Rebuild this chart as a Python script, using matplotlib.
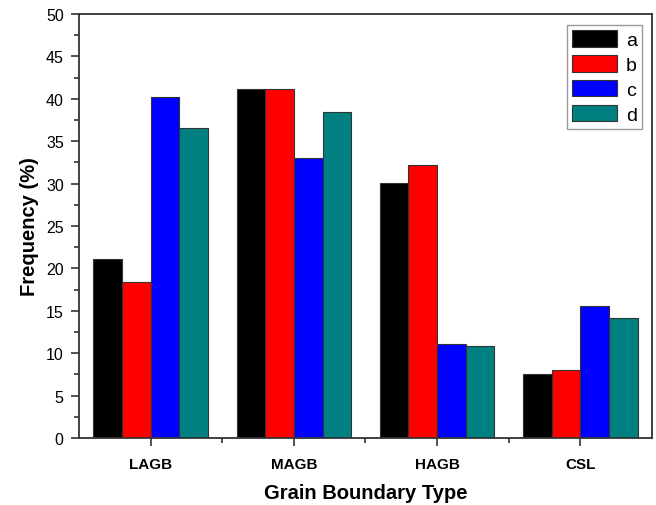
import numpy as np
import matplotlib
matplotlib.use('Agg')
import matplotlib.pyplot as plt
from matplotlib.ticker import MultipleLocator, FixedLocator

plt.rcParams['font.family'] = ['Liberation Sans', 'DejaVu Sans']

categories = ['LAGB', 'MAGB', 'HAGB', 'CSL']
series = ['a', 'b', 'c', 'd']
a = [21.1, 41.1, 30.1, 7.6]
b = [18.4, 41.2, 32.2, 8.0]
c = [40.2, 33.0, 11.1, 15.6]
d = [36.5, 38.4, 10.9, 14.2]
colors = ['#000000', '#ff0000', '#0000ff', '#008080']

fig = plt.figure(figsize=(6.56, 5.06), dpi=100)
ax = fig.add_axes([0.1204, 0.1324, 0.8735, 0.838])

x = np.arange(1, len(categories) + 1)
w = 0.2
for i, (vals, name) in enumerate(zip([a, b, c, d], series)):
    ax.bar(x + (i - 1.5) * w, vals, w, color=colors[i], edgecolor='#333333',
           linewidth=0.8, label=name)

ax.set_xlim(0.5, 4.5)
ax.set_ylim(0, 50)
ax.set_xticks(x)
ax.set_xticklabels(categories, fontweight='bold', fontsize=11)
ax.xaxis.set_minor_locator(FixedLocator([1.5, 2.5, 3.5]))
ax.yaxis.set_major_locator(MultipleLocator(5))
ax.yaxis.set_minor_locator(MultipleLocator(2.5))
ax.tick_params(axis='y', labelsize=11.5, pad=5)
ax.tick_params(which='major', length=6, width=1.2, color='#333333')
ax.tick_params(which='minor', length=3.5, width=1.2, color='#333333')
ax.tick_params(axis='x', pad=8)
for s in ax.spines.values():
    s.set_linewidth(1.3)
    s.set_color('#333333')

ax.set_xlabel('Grain Boundary Type', fontweight='bold', fontsize=14.5, labelpad=8)
ax.set_ylabel('Frequency (%)', fontweight='bold', fontsize=14.5, labelpad=5)

leg = ax.legend(loc='upper right', bbox_to_anchor=(0.9825, 0.974), fontsize=14,
                handlelength=2.35, handleheight=0.95, handletextpad=0.45,
                labelspacing=0.3, borderpad=0.25, borderaxespad=0,
                fancybox=False, edgecolor='#999999', framealpha=1)
leg.get_frame().set_linewidth(1.0)

fig.savefig('out.png', dpi=100)
